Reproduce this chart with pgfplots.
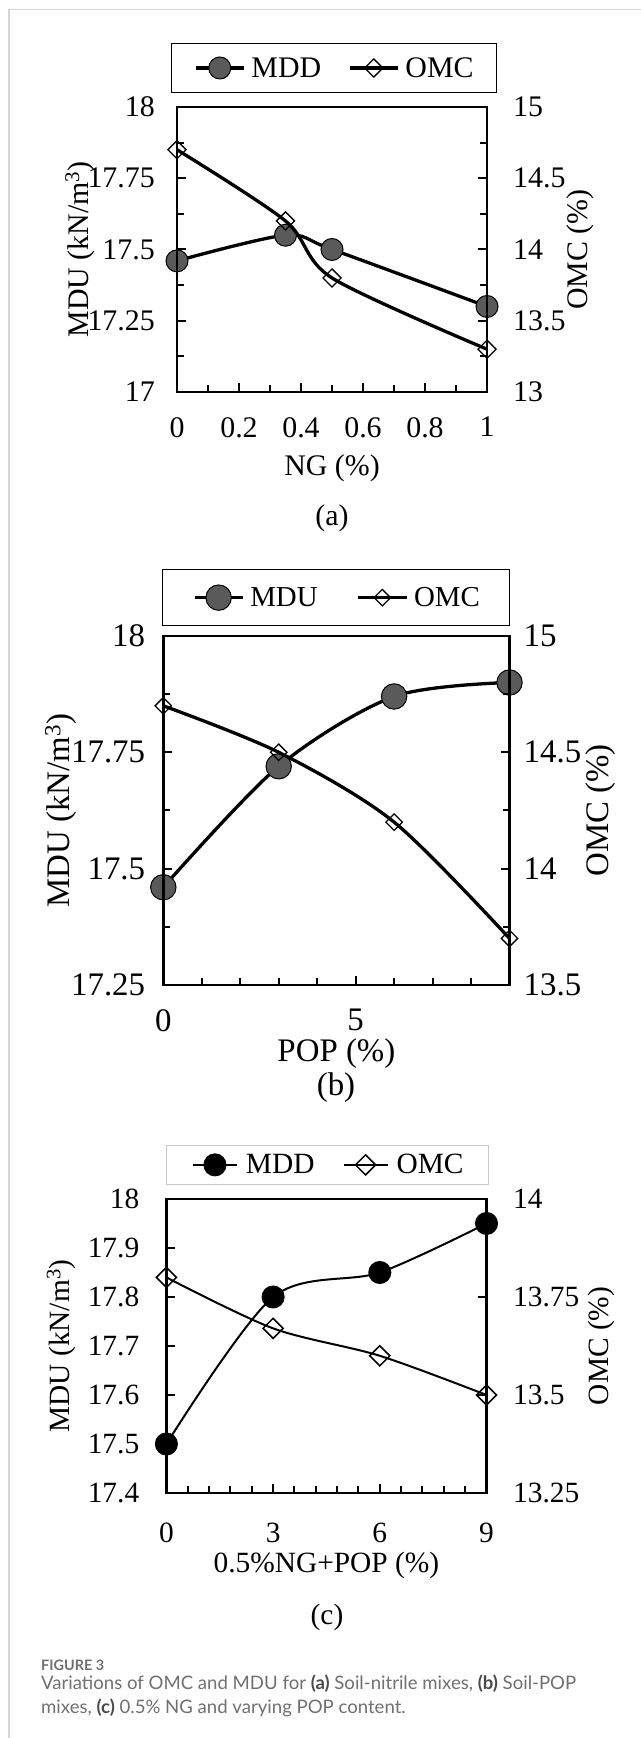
\documentclass[border=0pt]{standalone}
\usepackage{graphicx}
\usepackage{fontspec}
\setmainfont{Liberation Serif}
\newfontfamily\capfont{Lato}
\usepackage{pgfplots}
\pgfplotsset{compat=1.18}

\definecolor{mkgray}{HTML}{5A5A5A}
\definecolor{framegray}{HTML}{D6D6D6}
\definecolor{capgray}{HTML}{707070}
\definecolor{capdark}{HTML}{4A4A4A}
\definecolor{leggray}{HTML}{C8C8C8}

\pgfplotsset{
  base/.style={scale only axis, clip=false,
    axis line style={line width=2.8bp},
    tick align=inside,
    major tick length=9bp, minor tick length=7bp,
    tick style={black,line width=2bp},
  },
}

\begin{document}
\begin{tikzpicture}[x=1bp,y=1bp]
\useasboundingbox (0,0) rectangle (641,1738);
\fill[white] (0,0) rectangle (641,1738);
\draw[framegray, line width=1.6bp] (9,0) -- (9,1728.5) -- (641,1728.5);

% ---------------- (a) ----------------
\begin{axis}[base, at={(177bp,1346bp)}, anchor=south west, width=310bp, height=285bp,
  xmin=0, xmax=1, ymin=17, ymax=18,
  xtick={0,0.2,0.4,0.6,0.8,1}, xticklabels={0,0.2,0.4,0.6,0.8,1},
  minor xtick={0.1,0.3,0.5,0.7,0.9},
  ytick={17,17.25,17.5,17.75,18}, yticklabels={17,17.25,17.5,17.75,18},
  minor ytick={17.125,17.375,17.625,17.875},
  xtick pos=bottom, ytick pos=left,
  tick label style={font=\fontsize{30}{36}\selectfont},
  xticklabel style={inner sep=0pt, yshift=-25bp},
  yticklabel style={inner sep=0pt, xshift=-22bp},
  xlabel={NG (\%)}, ylabel={MDU (kN/m\textsuperscript{3})},
  every axis x label/.style={at={(axis description cs:0.5,-0.267)}, anchor=center, font=\fontsize{30}{36}\selectfont},
  every axis y label/.style={at={(axis description cs:-0.313,0.5)}, rotate=90, anchor=center, font=\fontsize{30}{36}\selectfont},
]
\addplot[black, line width=3.3bp, smooth, mark=*, mark size=11bp, mark options={fill=mkgray, draw=black, line width=1bp}]
  coordinates {(0,17.46) (0.35,17.55) (0.5,17.5) (1,17.3)};
\end{axis}
\begin{axis}[base, at={(177bp,1346bp)}, anchor=south west, width=310bp, height=285bp,
  xmin=0, xmax=1, ymin=13, ymax=15,
  hide x axis,
  ytick={13,13.5,14,14.5,15}, yticklabels={13,13.5,14,14.5,15},
  minor ytick={13.25,13.75,14.25,14.75},
  ytick pos=right, yticklabel pos=right,
  tick label style={font=\fontsize{30}{36}\selectfont},
  yticklabel style={inner sep=0pt, xshift=26bp},
  ylabel={OMC (\%)},
  every axis y label/.style={at={(axis description cs:1.3,0.5)}, rotate=90, anchor=center, font=\fontsize{30}{36}\selectfont},
  legend columns=2,
  legend image code/.code={\draw[mark repeat=2,mark phase=2] plot coordinates {(0bp,0bp) (24bp,0bp) (48bp,0bp)};},
  legend style={at={(0.506,1.049)}, anchor=south, draw=black, line width=1bp,
    font=\fontsize{30}{36}\selectfont, inner xsep=23bp, inner ysep=13.5bp,
    nodes={inner sep=0pt},
    /tikz/every odd column/.append style={column sep=6bp},
    /tikz/every even column/.append style={column sep=27bp}},
]
\addlegendimage{black, line width=3.3bp, mark=*, mark size=11bp, mark options={fill=mkgray, draw=black, line width=1bp}}
\addlegendentry{MDD}
\addplot[black, line width=3.3bp, smooth, mark=square, mark size=6.4bp, mark options={fill=white, draw=black, line width=1.3bp, rotate=45}]
  coordinates {(0,14.7) (0.35,14.2) (0.5,13.8) (1,13.3)};
\addlegendentry{OMC}
\end{axis}

% ---------------- (b) ----------------
\begin{axis}[base, at={(163.3bp,753bp)}, anchor=south west, width=346.2bp, height=349bp,
  xmin=0, xmax=9, ymin=17.25, ymax=18,
  xtick={0,5}, xticklabels={0,5},
  minor xtick={1,2,3,4,6,7,8},
  ytick={17.25,17.5,17.75,18}, yticklabels={17.25,17.5,17.75,18},
  minor ytick={17.375,17.625,17.875},
  xtick pos=bottom, ytick pos=left,
  tick label style={font=\fontsize{33}{40}\selectfont},
  xticklabel style={inner sep=0pt, yshift=-24bp},
  yticklabel style={inner sep=0pt, xshift=-18bp},
  xlabel={POP (\%)}, ylabel={MDU (kN/m\textsuperscript{3})},
  every axis x label/.style={at={(axis description cs:0.5,-0.198)}, anchor=center, font=\fontsize{33}{40}\selectfont},
  every axis y label/.style={at={(axis description cs:-0.296,0.5)}, rotate=90, anchor=center, font=\fontsize{33}{40}\selectfont},
]
\addplot[black, line width=3.3bp, smooth, mark=*, mark size=12.7bp, mark options={fill=mkgray, draw=black, line width=1bp}]
  coordinates {(0,17.46) (3,17.72) (6,17.87) (9,17.9)};
\end{axis}
\begin{axis}[base, at={(163.3bp,753bp)}, anchor=south west, width=346.2bp, height=349bp,
  xmin=0, xmax=9, ymin=13.5, ymax=15,
  hide x axis,
  ytick={13.5,14,14.5,15}, yticklabels={13.5,14,14.5,15},
  minor ytick={13.75,14.25,14.75},
  ytick pos=right, yticklabel pos=right,
  tick label style={font=\fontsize{33}{40}\selectfont},
  yticklabel style={inner sep=0pt, xshift=14bp},
  ylabel={OMC (\%)},
  every axis y label/.style={at={(axis description cs:1.262,0.5)}, rotate=90, anchor=center, font=\fontsize{33}{40}\selectfont},
  legend columns=2,
  legend image code/.code={\draw[mark repeat=2,mark phase=2] plot coordinates {(0bp,0bp) (24bp,0bp) (48bp,0bp)};},
  legend style={at={(0.5,1.029)}, anchor=south, draw=black, line width=1bp,
    font=\fontsize{29}{35}\selectfont, inner xsep=30bp, inner ysep=15bp,
    nodes={inner sep=0pt},
    /tikz/every odd column/.append style={column sep=6bp},
    /tikz/every even column/.append style={column sep=39bp}},
]
\addlegendimage{black, line width=3.3bp, mark=*, mark size=12.7bp, mark options={fill=mkgray, draw=black, line width=1bp}}
\addlegendentry{MDU}
\addplot[black, line width=3.3bp, smooth, mark=square, mark size=5.8bp, mark options={fill=white, draw=black, line width=1.3bp, rotate=45}]
  coordinates {(0,14.7) (3,14.5) (6,14.2) (9,13.7)};
\addlegendentry{OMC}
\end{axis}

% ---------------- (c) ----------------
\begin{axis}[base, at={(166.4bp,245bp)}, anchor=south west, width=320.1bp, height=294bp,
  xmin=0, xmax=9, ymin=17.4, ymax=18,
  xtick={0,3,6,9}, xticklabels={0,3,6,9},
  minor xtick={0.6,1.2,1.8,2.4,3.6,4.2,4.8,5.4,6.6,7.2,7.8,8.4},
  ytick={17.4,17.5,17.6,17.7,17.8,17.9,18}, yticklabels={17.4,17.5,17.6,17.7,17.8,17.9,18},
  xtick pos=bottom, ytick pos=left,
  tick label style={font=\fontsize{29.5}{35}\selectfont},
  xticklabel style={inner sep=0pt, yshift=-30bp},
  yticklabel style={inner sep=0pt, xshift=-27bp},
  xlabel={0.5\%NG+POP (\%)}, ylabel={MDU (kN/m\textsuperscript{3})},
  every axis x label/.style={at={(axis description cs:0.5,-0.248)}, anchor=center, font=\fontsize{29.5}{35}\selectfont},
  every axis y label/.style={at={(axis description cs:-0.329,0.5)}, rotate=90, anchor=center, font=\fontsize{29.5}{35}\selectfont},
]
\addplot[black, line width=2bp, smooth, mark=*, mark size=11bp, mark options={fill=black, draw=black, line width=1bp}]
  coordinates {(0,17.5) (3,17.8) (6,17.85) (9,17.95)};
\end{axis}
\begin{axis}[base, at={(166.4bp,245bp)}, anchor=south west, width=320.1bp, height=294bp,
  xmin=0, xmax=9, ymin=13.25, ymax=14,
  hide x axis,
  ytick={13.25,13.5,13.75,14}, yticklabels={13.25,13.5,13.75,14},
  ytick pos=right, yticklabel pos=right,
  tick label style={font=\fontsize{29.5}{35}\selectfont},
  yticklabel style={inner sep=0pt, xshift=26.5bp},
  ylabel={OMC (\%)},
  every axis y label/.style={at={(axis description cs:1.358,0.5)}, rotate=90, anchor=center, font=\fontsize{29.5}{35}\selectfont},
  legend columns=2,
  legend image code/.code={\draw[mark repeat=2,mark phase=2] plot coordinates {(0bp,0bp) (22bp,0bp) (44bp,0bp)};},
  legend style={at={(0.504,1.048)}, anchor=south, draw=leggray, line width=1bp,
    font=\fontsize{29.5}{35}\selectfont, inner xsep=25bp, inner ysep=8.5bp,
    nodes={inner sep=0pt},
    /tikz/every odd column/.append style={column sep=8bp},
    /tikz/every even column/.append style={column sep=28bp}},
]
\addlegendimage{black, line width=2bp, mark=*, mark size=11bp, mark options={fill=black, draw=black, line width=1bp}}
\addlegendentry{MDD}
\addplot[black, line width=2bp, smooth, mark=square, mark size=7.1bp, mark options={fill=white, draw=black, line width=1.5bp, rotate=45}]
  coordinates {(0,13.8) (3,13.67) (6,13.6) (9,13.5)};
\addlegendentry{OMC}
\end{axis}

% sub-labels
\node[font=\fontsize{30}{36}\selectfont] at (332,1220) {(a)};
\node[font=\fontsize{33}{40}\selectfont] at (336,650) {(b)};
\node[font=\fontsize{29.5}{35}\selectfont] at (327,121) {(c)};

% caption
\node[anchor=west, inner sep=0pt, text=capgray] at (41,73)
  {\resizebox{63bp}{!}{\capfont\bfseries FIGURE 3}};
\node[anchor=north west, inner sep=0pt, text=capgray] at (41,65.2)
  {\resizebox{535bp}{!}{\capfont\fontsize{17}{22}\selectfont\begin{tabular}{@{}l@{}}Variations of OMC and MDU for \textcolor{capdark}{\textbf{(a)}} Soil-nitrile mixes, \textcolor{capdark}{\textbf{(b)}} Soil-POP\\
  mixes, \textcolor{capdark}{\textbf{(c)}} 0.5\% NG and varying POP content.\end{tabular}}};
\end{tikzpicture}
\end{document}
